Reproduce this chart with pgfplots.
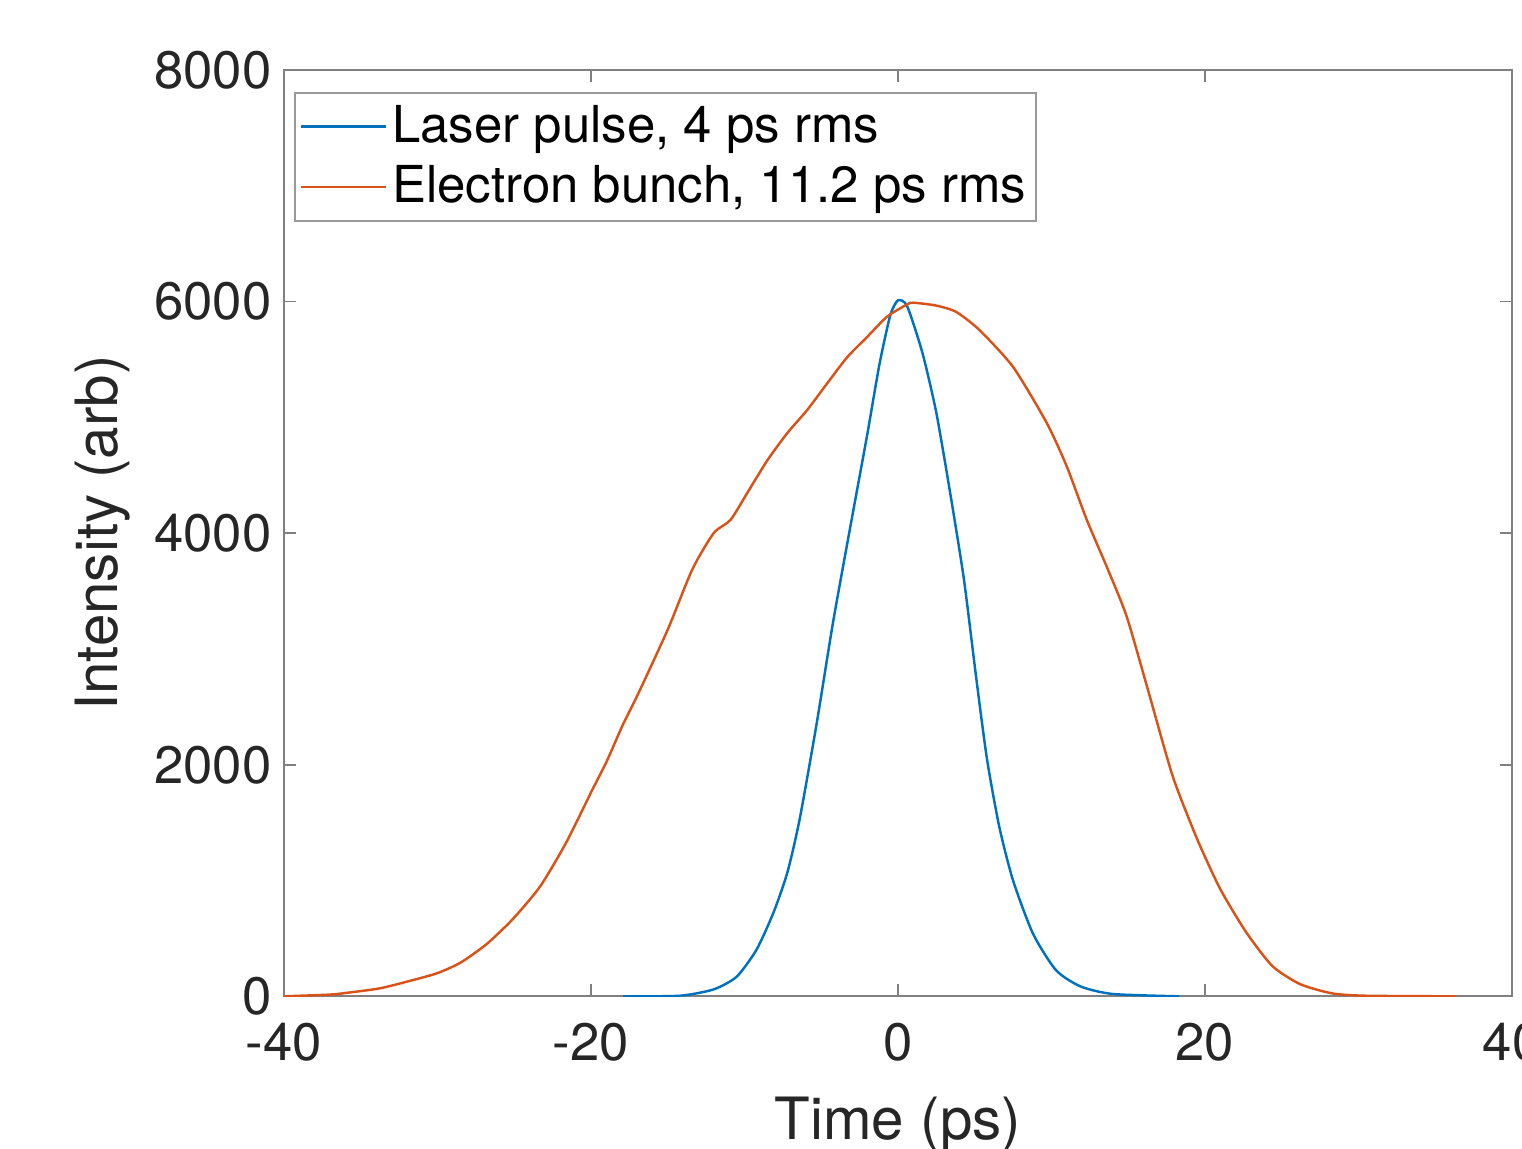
\documentclass[border=0pt]{standalone}
\usepackage{fontspec}
\setmainfont{TeX Gyre Heros}
\usepackage{pgfplots}
\pgfplotsset{compat=1.18}
\definecolor{mblue}{RGB}{0,114,189}
\definecolor{morange}{RGB}{217,83,25}
\definecolor{axgray}{RGB}{38,38,38}

\begin{document}
\begin{tikzpicture}
\begin{axis}[
    scale only axis, width=12.29cm, height=9.27cm,
    xmin=-40, xmax=40, ymin=0, ymax=8000,
    xtick={-40,-20,0,20,40}, xticklabels={-40,-20,0,20,40},
    ytick={0,2000,4000,6000,8000}, yticklabels={0,2000,4000,6000,8000},
    tick align=inside, major tick length=0.12cm,
    axis line style={black!50, line width=0.5pt},
    tick style={black!50, line width=0.5pt},
    ticklabel style={font=\fontsize{15}{18}\selectfont, text=axgray},
    xticklabel style={yshift=-4pt},
    label style={font=\fontsize{16.6}{20}\selectfont, text=axgray},
    xlabel={Time (ps)}, ylabel={Intensity (arb)},
    xlabel style={at={(axis description cs:0.5,-0.1543)}, anchor=base},
    legend cell align=left,
    legend image code/.code={\draw[#1] (0cm,0cm) -- (0.85cm,0cm);},
    legend style={at={(rel axis cs:0.0081,0.9763)}, anchor=north west,
        draw=black!40, line width=0.5pt, fill=white,
        inner xsep=1.5pt, inner ysep=2.2pt, row sep=2.3pt,
        nodes={inner xsep=1.4pt, inner ysep=1.4pt},
        font=\fontsize{14.5}{17}\selectfont, text=black},
]
% laser pulse
\addplot[color=mblue, line width=0.7pt, smooth, tension=0.4] coordinates {
(-17.9,0) (-14.2,5) (-12.0,60) (-10.5,170) (-9.2,405) (-8.1,725) (-7.2,1070)
(-6.4,1530) (-5.3,2350) (-4.2,3250) (-2.9,4200) (-2.0,4850) (-1.2,5460)
(-0.5,5880) (0,6010) (0.6,5960) (1.6,5555) (2.5,5040) (3.4,4350) (4.3,3600)
(5.1,2750) (5.8,2050) (6.6,1465) (7.5,1000) (8.8,540) (10.3,225) (11.9,85)
(14.0,20) (18.3,0)};
\addlegendentry{Laser pulse, 4 ps rms}
% electron bunch
\addplot[color=morange, line width=0.7pt, smooth, tension=0.4] coordinates {
(-40,0) (-37,15) (-35.9,30) (-33.7,70) (-31.6,140) (-30,200) (-28.5,290)
(-26.8,450) (-25.1,665) (-23.3,950) (-21.6,1330) (-19.9,1785) (-19,2020)
(-17.9,2350) (-17.0,2590) (-15.0,3165) (-13.4,3685) (-12.0,4000) (-10.9,4115)
(-9.8,4350) (-8.5,4630) (-7.2,4865) (-5.9,5065) (-4.6,5295) (-3.3,5520)
(-2.0,5695) (-0.7,5870) (0.6,5975) (1.0,5990) (2.5,5965) (3.8,5910) (5.3,5755)
(7.5,5435) (9.7,4950) (11.0,4575) (12.3,4115) (13.6,3710) (14.9,3280)
(16.3,2640) (17.9,1900) (19.5,1355) (21.0,925) (22.7,550) (24.4,260)
(26.2,105) (28.3,25) (30.5,5) (36.3,0)};
\addlegendentry{Electron bunch, 11.2 ps rms}
\coordinate (o) at (rel axis cs:0,0);
\coordinate (t) at (rel axis cs:1,1);
\end{axis}
\pgfresetboundingbox
\path ([xshift=-2.84cm,yshift=-1.52cm]o) rectangle ([xshift=0.10cm,yshift=0.70cm]t);
\end{tikzpicture}
\end{document}
